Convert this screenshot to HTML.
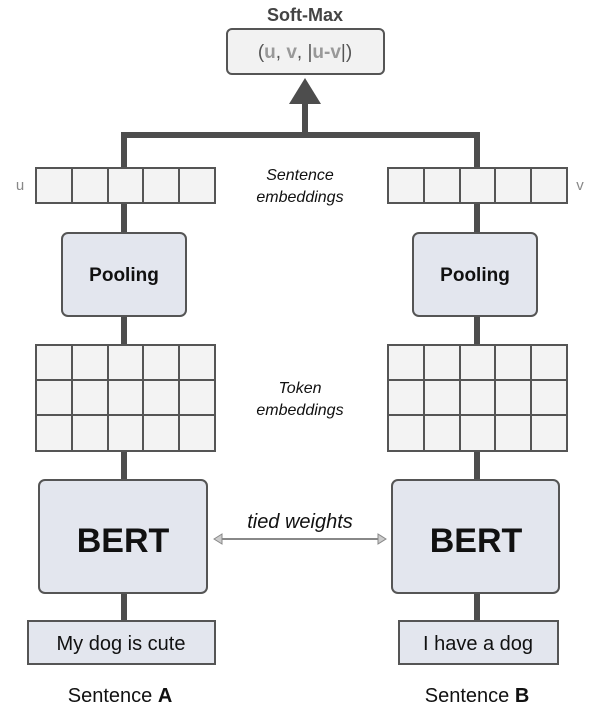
<!DOCTYPE html>
<html><head><meta charset="utf-8"><style>
html,body{margin:0;padding:0;background:#fff;}
svg{display:block;}
text{font-family:"Liberation Sans","DejaVu Sans",sans-serif;}
</style></head><body>
<svg width="600" height="708" viewBox="0 0 600 708" xmlns="http://www.w3.org/2000/svg">
<g stroke="#4d4d4d" stroke-width="6" fill="none">
<polyline points="124,650 124,135 477,135 477,650"/>
<line x1="305" y1="135" x2="305" y2="100"/>
</g>
<polygon points="305,78 289,104 321,104" fill="#4d4d4d"/>
<text x="305" y="21" text-anchor="middle" font-size="18" font-weight="bold" fill="#444">Soft-Max</text>
<rect x="227" y="29" width="157" height="45" rx="5" fill="#f2f2f2" stroke="#555" stroke-width="2"/>
<text x="305" y="58" text-anchor="middle" font-size="19" fill="#555">(<tspan font-weight="bold" fill="#999">u</tspan>, <tspan font-weight="bold" fill="#999">v</tspan>, |<tspan font-weight="bold" fill="#999">u-v</tspan>|)</text>
<g fill="#f3f3f3" stroke="#555" stroke-width="2">
<rect x="36" y="168" width="179" height="35"/>
<rect x="388" y="168" width="179" height="35"/>
<rect x="36" y="345" width="179" height="106"/>
<rect x="388" y="345" width="179" height="106"/>
</g>
<g stroke="#555" stroke-width="2">
<line x1="72" y1="168" x2="72" y2="203"/><line x1="108" y1="168" x2="108" y2="203"/><line x1="143" y1="168" x2="143" y2="203"/><line x1="179" y1="168" x2="179" y2="203"/>
<line x1="424" y1="168" x2="424" y2="203"/><line x1="460" y1="168" x2="460" y2="203"/><line x1="495" y1="168" x2="495" y2="203"/><line x1="531" y1="168" x2="531" y2="203"/>
<line x1="72" y1="345" x2="72" y2="451"/><line x1="108" y1="345" x2="108" y2="451"/><line x1="143" y1="345" x2="143" y2="451"/><line x1="179" y1="345" x2="179" y2="451"/>
<line x1="36" y1="380" x2="215" y2="380"/><line x1="36" y1="415" x2="215" y2="415"/>
<line x1="424" y1="345" x2="424" y2="451"/><line x1="460" y1="345" x2="460" y2="451"/><line x1="495" y1="345" x2="495" y2="451"/><line x1="531" y1="345" x2="531" y2="451"/>
<line x1="388" y1="380" x2="567" y2="380"/><line x1="388" y1="415" x2="567" y2="415"/>
</g>
<text x="20" y="190" text-anchor="middle" font-size="15" fill="#888">u</text>
<text x="580" y="190" text-anchor="middle" font-size="15" fill="#888">v</text>
<text x="300" y="180" text-anchor="middle" font-size="16" font-style="italic" fill="#111">Sentence</text>
<text x="300" y="202" text-anchor="middle" font-size="16" font-style="italic" fill="#111">embeddings</text>
<text x="300" y="393" text-anchor="middle" font-size="16" font-style="italic" fill="#111">Token</text>
<text x="300" y="415" text-anchor="middle" font-size="16" font-style="italic" fill="#111">embeddings</text>
<g fill="#e3e6ee" stroke="#555" stroke-width="2">
<rect x="62" y="233" width="124" height="83" rx="6"/>
<rect x="413" y="233" width="124" height="83" rx="6"/>
<rect x="39" y="480" width="168" height="113" rx="6"/>
<rect x="392" y="480" width="167" height="113" rx="6"/>
<rect x="28" y="621" width="187" height="43"/>
<rect x="399" y="621" width="159" height="43"/>
</g>
<text x="124" y="281" text-anchor="middle" font-size="19" font-weight="bold" fill="#111">Pooling</text>
<text x="475" y="281" text-anchor="middle" font-size="19" font-weight="bold" fill="#111">Pooling</text>
<text x="123" y="552" text-anchor="middle" font-size="34" font-weight="bold" fill="#111">BERT</text>
<text x="476" y="552" text-anchor="middle" font-size="34" font-weight="bold" fill="#111">BERT</text>
<text x="121" y="650" text-anchor="middle" font-size="20" fill="#111">My dog is cute</text>
<text x="478" y="650" text-anchor="middle" font-size="20" fill="#111">I have a dog</text>
<text x="120" y="702" text-anchor="middle" font-size="20" fill="#111">Sentence <tspan font-weight="bold">A</tspan></text>
<text x="477" y="702" text-anchor="middle" font-size="20" fill="#111">Sentence <tspan font-weight="bold">B</tspan></text>
<text x="300" y="528" text-anchor="middle" font-size="20" font-style="italic" fill="#111">tied weights</text>
<line x1="220" y1="539" x2="380" y2="539" stroke="#888" stroke-width="2"/>
<polygon points="214,539 222,534 222,544" fill="#ccc" stroke="#888"/>
<polygon points="386,539 378,534 378,544" fill="#ccc" stroke="#888"/>
</svg>
</body></html>
